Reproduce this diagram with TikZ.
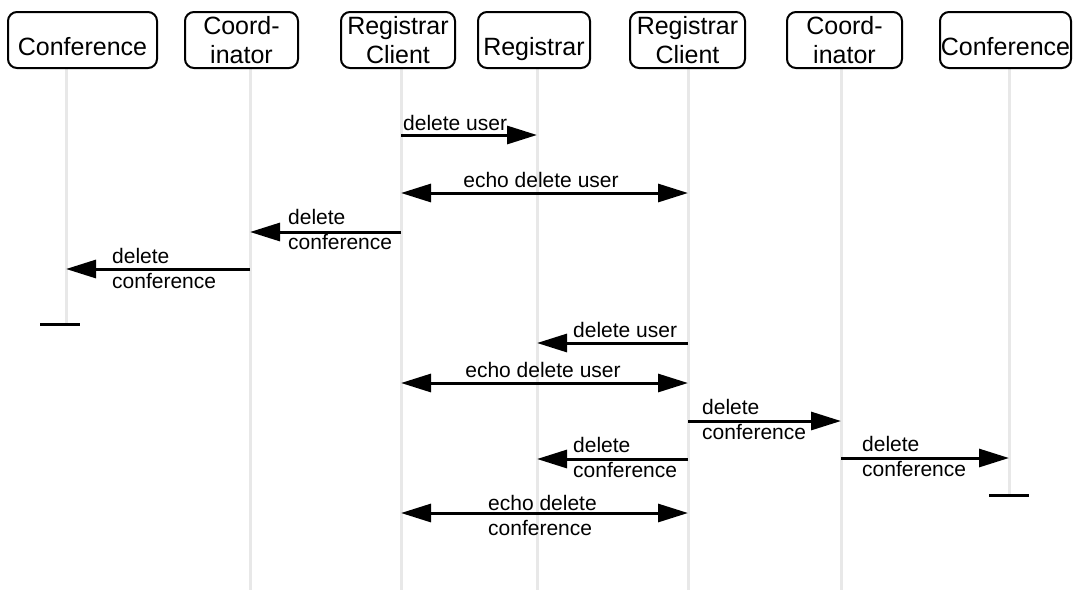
\documentclass[tikz,border=0pt]{standalone}
\usepackage{fontspec}
\setmainfont{Liberation Sans}
\usetikzlibrary{arrows.meta}
\begin{document}
\begin{tikzpicture}[x=1pt,y=-1pt,
  actor/.style={draw, line width=2pt, rounded corners=9pt, minimum height=56pt, inner sep=0pt, font=\fontsize{25}{29}\selectfont},
  oneline/.style={text height=30pt, text depth=0pt},
  twoline/.style={align=center},
  life/.style={draw=black!9, line width=3pt},
  msg/.style={line width=3pt, -{Triangle[length=30pt,width=18pt]}},
  emsg/.style={line width=3pt, {Triangle[length=30pt,width=18pt]}-{Triangle[length=30pt,width=18pt]}},
  lbl/.style={inner sep=0pt, font=\fontsize{21}{25}\selectfont},
  lbltwo/.style={lbl, align=left, anchor=north west},
  endbar/.style={line width=3pt}]
\useasboundingbox (0,0) rectangle (1079,590);

% lifeline coordinates
\coordinate (c1t) at (66,68);   \coordinate (c1b) at (66,324);
\coordinate (k1t) at (250,68);  \coordinate (k1b) at (250,590);
\coordinate (r1t) at (401,68);  \coordinate (r1b) at (401,590);
\coordinate (gt)  at (537,68);  \coordinate (gb)  at (537,590);
\coordinate (r2t) at (688,68);  \coordinate (r2b) at (688,590);
\coordinate (k2t) at (841,68);  \coordinate (k2b) at (841,590);
\coordinate (c2t) at (1009,68); \coordinate (c2b) at (1009,495);

\draw[life] (c1t) -- (c1b);
\draw[life] (k1t) -- (k1b);
\draw[life] (r1t) -- (r1b);
\draw[life] (gt) -- (gb);
\draw[life] (r2t) -- (r2b);
\draw[life] (k2t) -- (k2b);
\draw[life] (c2t) -- (c2b);

% actor boxes
\node[actor, oneline, minimum width=149pt] (c1) at (82.5,40) {Conference};
\node[actor, twoline, minimum width=113pt] (k1) at (241.5,40) {Coord-\\inator};
\node[actor, twoline, minimum width=114pt] (r1) at (398,40) {Registrar\\Client};
\node[actor, oneline, minimum width=112pt] (g) at (534,40) {Registrar};
\node[actor, twoline, minimum width=115pt] (r2) at (687.5,40) {Registrar\\Client};
\node[actor, twoline, minimum width=115pt] (k2) at (844.5,40) {Coord-\\inator};
\node[actor, oneline, minimum width=131pt] (c2) at (1005.5,40) {Conference};

% messages
\draw[msg] (r1t |- 0,135) -- (gt |- 0,135);
\node[lbl, anchor=base west] (l1) at (403,130) {delete user};

\draw[emsg] (r1t |- 0,193) -- (r2t |- 0,193);
\node[lbl, anchor=base] (l2) at (541,187) {echo delete user};

\draw[msg] (r1t |- 0,232) -- (k1t |- 0,232);
\node[lbltwo] (l3) at (288,209) {delete\\conference};

\draw[msg] (k1t |- 0,269) -- (c1t |- 0,269);
\node[lbltwo] (l4) at (112,248) {delete\\conference};

\coordinate (b1a) at (40,324); \coordinate (b1b) at (80,324);
\draw[endbar] (b1a) -- (b1b);

\draw[msg] (r2t |- 0,343) -- (gt |- 0,343);
\node[lbl, anchor=base west] (l6) at (573,337) {delete user};

\draw[emsg] (r1t |- 0,383) -- (r2t |- 0,383);
\node[lbl, anchor=base] (l7) at (543,377) {echo delete user};

\draw[msg] (r2t |- 0,421) -- (k2t |- 0,421);
\node[lbltwo] (l8) at (702,399) {delete\\conference};

\draw[msg] (r2t |- 0,459) -- (gt |- 0,459);
\node[lbltwo] (l9) at (573,437) {delete\\conference};

\draw[msg] (k2t |- 0,458) -- (c2t |- 0,458);
\node[lbltwo] (l10) at (862,436) {delete\\conference};

\coordinate (b2a) at (989,495); \coordinate (b2b) at (1029,495);
\draw[endbar] (b2a) -- (b2b);

\draw[emsg] (r1t |- 0,513) -- (r2t |- 0,513);
\node[lbltwo] (l12) at (488,495) {echo delete\\conference};
\end{tikzpicture}
\end{document}
